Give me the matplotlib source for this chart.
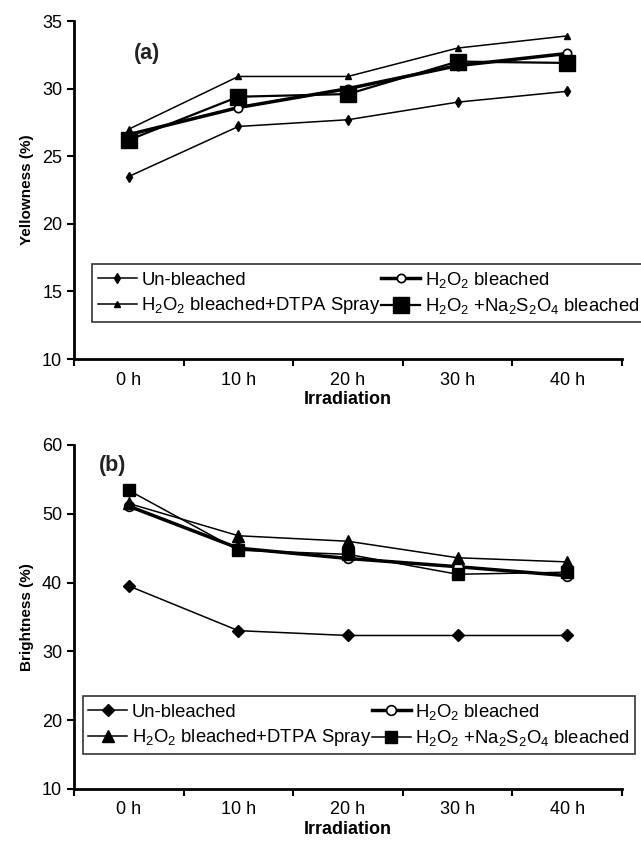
import matplotlib.pyplot as plt
import numpy as np

plt.rcParams['font.family'] = ['Liberation Sans', 'DejaVu Sans']
plt.rcParams['mathtext.fontset'] = 'custom'
plt.rcParams['mathtext.rm'] = 'Liberation Sans'
plt.rcParams['mathtext.it'] = 'Liberation Sans:italic'
plt.rcParams['mathtext.bf'] = 'Liberation Sans:bold'

# data
times = ["0 h", "10 h", "20 h", "30 h", "40 h"]
labels = ["Un-bleached", r"H$_2$O$_2$ bleached",
          r"H$_2$O$_2$ bleached+DTPA Spray", r"H$_2$O$_2$ +Na$_2$S$_2$O$_4$ bleached"]

yellow_unbleached = [23.5, 27.2, 27.7, 29.0, 29.8]
yellow_h2o2 = [26.6, 28.6, 30.0, 31.7, 32.6]
yellow_dtpa = [27.0, 30.9, 30.9, 33.0, 33.9]
yellow_na = [26.2, 29.4, 29.6, 32.0, 31.9]

bright_unbleached = [39.5, 33.0, 32.3, 32.3, 32.3]
bright_h2o2 = [51.1, 45.0, 43.5, 42.3, 41.0]
bright_dtpa = [51.5, 46.8, 46.0, 43.6, 43.0]
bright_na = [53.4, 44.7, 44.1, 41.2, 41.5]

fig = plt.figure(figsize=(6.41, 8.41), dpi=100)
ax1 = fig.add_axes([0.1154, 0.5731, 0.855, 0.4019])
ax2 = fig.add_axes([0.1154, 0.0620, 0.855, 0.4089])

x = np.arange(len(times))


def style_axis(ax, ymin, ymax, step, ylabel):
    ax.set_xlim(-0.5, len(times) - 0.5)
    ax.set_ylim(ymin, ymax)
    ax.set_yticks(np.arange(ymin, ymax + 0.1, step))
    ax.set_xticks(np.arange(-0.5, len(times), 1.0))
    ax.set_xticklabels([])
    ax.set_xticks(x, minor=True)
    ax.set_xticklabels(times, minor=True)
    ax.tick_params(axis='x', which='minor', length=0, pad=9, labelsize=13)
    ax.tick_params(axis='x', which='major', length=5, width=1.5, direction='out')
    ax.tick_params(axis='y', length=5, width=1.5, direction='out', labelsize=13)
    for s in ['top', 'right']:
        ax.spines[s].set_visible(False)
    for s in ['left', 'bottom']:
        ax.spines[s].set_linewidth(2)
    ax.set_xlabel("Irradiation", fontsize=13, fontweight='bold', labelpad=2)
    ax.set_ylabel(ylabel, fontsize=11, fontweight='bold', labelpad=6)


def ordered_legend(ax, anchor):
    # two columns, filled row by row as in the original
    h, l = ax.get_legend_handles_labels()
    order = [0, 2, 1, 3]
    leg = ax.legend([h[i] for i in order], [l[i] for i in order], ncol=2,
                    loc='upper left', bbox_to_anchor=anchor, borderaxespad=0,
                    fontsize=13.3, frameon=True, fancybox=False, edgecolor='black',
                    handlelength=2.1, handletextpad=0.25, columnspacing=0.05,
                    labelspacing=0.35, borderpad=0.3)
    leg.get_frame().set_linewidth(1.2)
    return leg


# ---- panel (a)
ax1.plot(x, yellow_unbleached, color='black', lw=1.1, marker='d', ms=5.5, label=labels[0])
ax1.plot(x, yellow_h2o2, color='black', lw=2.5, marker='o', ms=6, mfc='white', mew=1.2, label=labels[1])
ax1.plot(x, yellow_dtpa, color='black', lw=1.1, marker='^', ms=5, label=labels[2])
ax1.plot(x, yellow_na, color='black', lw=1.6, marker='s', ms=11, label=labels[3])
style_axis(ax1, 10, 35, 5, "Yellowness (%)")
ax1.text(0.109, 0.905, "(a)", transform=ax1.transAxes, fontsize=15.5, fontweight='bold',
         color='#222222', va='center')
ordered_legend(ax1, (0.0334, 0.280))

# ---- panel (b)
ax2.plot(x, bright_unbleached, color='black', lw=1.1, marker='D', ms=6, label=labels[0])
ax2.plot(x, bright_h2o2, color='black', lw=2.5, marker='o', ms=7, mfc='white', mew=1.2, label=labels[1])
ax2.plot(x, bright_dtpa, color='black', lw=1.1, marker='^', ms=8, label=labels[2])
ax2.plot(x, bright_na, color='black', lw=1.1, marker='s', ms=8, label=labels[3])
style_axis(ax2, 10, 60, 10, "Brightness (%)")
ax2.text(0.046, 0.94, "(b)", transform=ax2.transAxes, fontsize=15.5, fontweight='bold',
         color='#222222', va='center')
ordered_legend(ax2, (0.016, 0.27))

fig.savefig("out.png", dpi=100)
